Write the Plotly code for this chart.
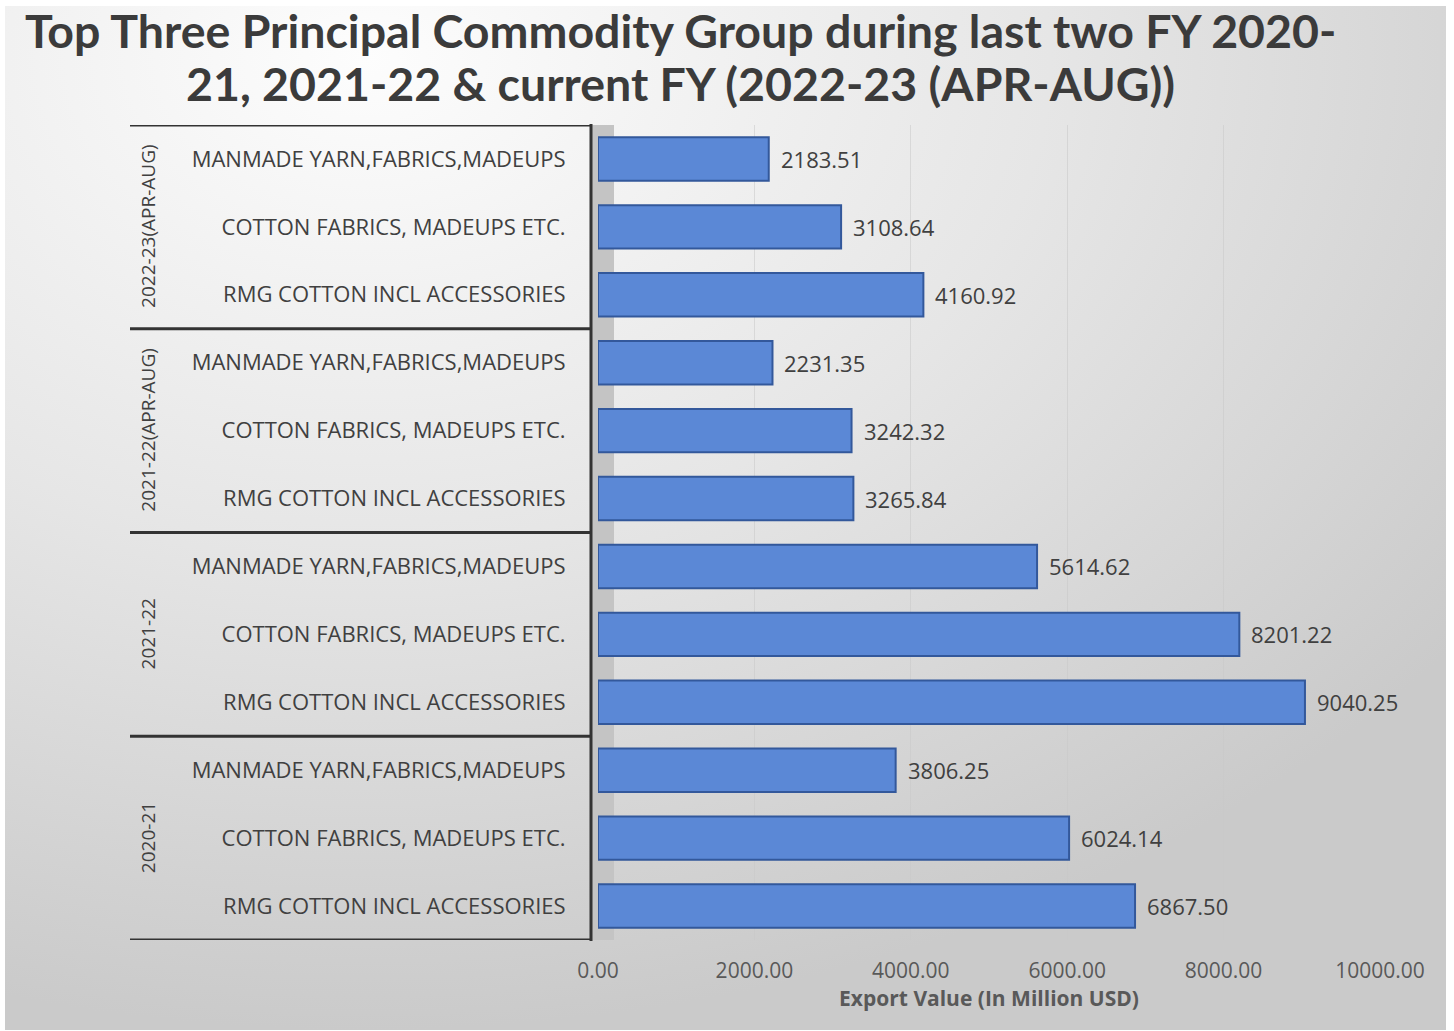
import base64
import plotly.graph_objects as go

# ---------------- data ----------------
years = ["2020-21", "2021-22", "2021-22(APR-AUG)", "2022-23(APR-AUG)"]
commodities = ["RMG COTTON INCL ACCESSORIES", "COTTON FABRICS, MADEUPS ETC.",
               "MANMADE YARN,FABRICS,MADEUPS"]
values_2020_21 = [6867.50, 6024.14, 3806.25]
values_2021_22 = [9040.25, 8201.22, 5614.62]
values_2021_22_aa = [3265.84, 3242.32, 2231.35]
values_2022_23_aa = [4160.92, 3108.64, 2183.51]
x_ticks = [0, 2000, 4000, 6000, 8000, 10000]
x_tick_labels = ["0.00", "2000.00", "4000.00", "6000.00", "8000.00", "10000.00"]
title_lines = ["Top Three Principal Commodity Group during last two FY 2020-",
               "21, 2021-22 & current FY (2022-23 (APR-AUG))"]
x_title = "Export Value (In Million USD)"

groups = [values_2020_21, values_2021_22, values_2021_22_aa, values_2022_23_aa]

# flatten (bottom -> top)
pos, vals, labels = [], [], []
for gi, gvals in enumerate(groups):
    for ci, v in enumerate(gvals):
        pos.append(gi * len(commodities) + ci)
        vals.append(v)
        labels.append(commodities[ci])

# ---------------- layout geometry ----------------
W, H = 1454, 1031
L, R, T, B = 598, 1380, 125, 940
pw, ph = R - L, B - T


def px_x(p):
    return (p - L) / pw


def px_y(p):
    return (B - p) / ph


FONT = "Open Sans"
TXT = "#404040"

fig = go.Figure()
fig.add_trace(go.Bar(
    x=vals, y=pos, orientation="h", width=0.64,
    marker=dict(color="#5b88d6", line=dict(color="#33589b", width=2)),
    hoverinfo="x+y", showlegend=False,
))

annotations = []
for p, v in zip(pos, vals):
    annotations.append(dict(x=v, y=p, xref="x", yref="y", text=f"{v:.2f}",
                            showarrow=False, xanchor="left", xshift=10,
                            font=dict(family=FONT, size=22, color=TXT)))

n = len(commodities)
for gi, yr in enumerate(years):
    annotations.append(dict(x=px_x(148), y=gi * n + (n - 1) / 2, xref="paper", yref="y",
                            text=yr, textangle=-90, showarrow=False,
                            xanchor="center", yanchor="middle",
                            font=dict(family=FONT, size=19, color=TXT)))

for line, ypx in zip(title_lines, [30, 83]):
    annotations.append(dict(x=px_x(680), y=px_y(ypx), xref="paper", yref="paper",
                            text=line, showarrow=False, xanchor="center", yanchor="middle",
                            font=dict(family="Lato", size=46.5, color="#3b3b3b",
                                      weight="bold")))

shapes = []
# 3D side wall
shapes.append(dict(type="rect", xref="paper", yref="paper", x0=px_x(591), x1=px_x(614),
                   y0=0, y1=1, fillcolor="#c4c4c4", line=dict(width=0), layer="below"))
for gi in range(len(years) + 1):
    yv = gi * n - 0.5
    shapes.append(dict(type="line", xref="paper", yref="y", x0=px_x(130), x1=px_x(591),
                       y0=yv, y1=yv, line=dict(color="#333333", width=3)))
shapes.append(dict(type="line", xref="paper", yref="paper", x0=px_x(591), x1=px_x(591),
                   y0=px_y(941), y1=px_y(124), line=dict(color="#333333", width=3)))

svg = ("<svg xmlns='http://www.w3.org/2000/svg' width='1441' height='1024' "
       "preserveAspectRatio='none' viewBox='0 0 1441 1024'><defs>"
       "<radialGradient id='g' cx='0.25' cy='0.05' r='0.95'>"
       "<stop offset='0' stop-color='#fdfdfd'/><stop offset='0.5' stop-color='#e6e6e6'/>"
       "<stop offset='1' stop-color='#cacaca'/></radialGradient></defs>"
       "<rect width='1441' height='1024' fill='url(#g)'/></svg>")
src = "data:image/svg+xml;base64," + base64.b64encode(svg.encode()).decode()

fig.update_layout(
    width=W, height=H,
    margin=dict(l=L, r=W - R, t=T, b=H - B, pad=0),
    paper_bgcolor="white", plot_bgcolor="rgba(0,0,0,0)",
    xaxis=dict(range=[0, 10000], tickvals=x_ticks, ticktext=x_tick_labels,
               showgrid=True, gridcolor="rgba(200,200,200,0.55)", gridwidth=1,
               zeroline=False, showline=False, ticks="outside", ticklen=12,
               tickcolor="rgba(0,0,0,0)",
               tickfont=dict(family=FONT, size=21, color="#595959"),
               title=dict(text=x_title, standoff=6,
                          font=dict(family=FONT, size=21, color="#595959", weight="bold"))),
    yaxis=dict(range=[-0.5, len(pos) - 0.5], tickvals=pos, ticktext=labels,
               showgrid=False, zeroline=False, showline=False, ticks="outside", ticklen=27,
               tickcolor="rgba(0,0,0,0)",
               tickfont=dict(family=FONT, size=22, color=TXT)),
    annotations=annotations, shapes=shapes,
    images=[dict(source=src, xref="paper", yref="paper", x=px_x(5), y=px_y(6),
                 sizex=1441 / pw, sizey=1024 / ph, xanchor="left", yanchor="top",
                 sizing="stretch", layer="below")],
)

fig.write_html("out.html", config={"displayModeBar": False},
               post_script="document.body.style.margin='0';")
